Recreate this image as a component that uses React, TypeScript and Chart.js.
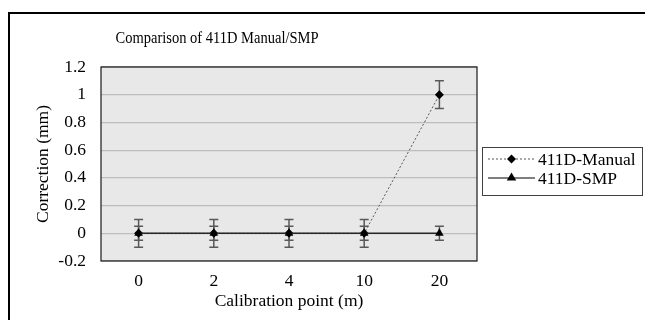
import React, { useEffect, useRef } from 'react';
import { Chart, registerables } from 'chart.js';

Chart.register(...registerables);

const categories = ['0', '2', '4', '10', '20'];
const manualValues = [0, 0, 0, 0, 1];
const smpValues = [0, 0, 0, 0, 0];
const manualErrors = [0.1, 0.1, 0.1, 0.1, 0.1];
const smpErrors = [0.05, 0.05, 0.05, 0.05, 0.05];
const yMin = -0.2;
const yMax = 1.2;
const yStep = 0.2;
const chartTitle = 'Comparison of 411D Manual/SMP';
const xAxisTitle = 'Calibration point (m)';
const yAxisTitle = 'Correction (mm)';
const seriesNames = ['411D-Manual', '411D-SMP'];

const FONT = "'Liberation Serif', 'Times New Roman', serif";

function drawDiamond(ctx: CanvasRenderingContext2D, x: number, y: number, r: number) {
  ctx.beginPath();
  ctx.moveTo(x, y - r);
  ctx.lineTo(x + r, y);
  ctx.lineTo(x, y + r);
  ctx.lineTo(x - r, y);
  ctx.closePath();
  ctx.fill();
}

function drawTriangle(ctx: CanvasRenderingContext2D, x: number, y: number, r: number) {
  ctx.beginPath();
  ctx.moveTo(x, y - r);
  ctx.lineTo(x + r * 0.95, y + r * 0.6);
  ctx.lineTo(x - r * 0.95, y + r * 0.6);
  ctx.closePath();
  ctx.fill();
}

const decorPlugin = {
  id: 'decor',
  beforeDraw(chart: any) {
    const { ctx, chartArea } = chart;
    ctx.save();
    ctx.fillStyle = '#ffffff';
    ctx.fillRect(0, 0, chart.width, chart.height);
    ctx.strokeStyle = '#000000';
    ctx.lineWidth = 2;
    ctx.strokeRect(9, 13, chart.width + 20, chart.height + 20);
    ctx.fillStyle = '#e8e8e8';
    ctx.fillRect(chartArea.left, chartArea.top, chartArea.right - chartArea.left, chartArea.bottom - chartArea.top);
    ctx.restore();
  },
  beforeDatasetsDraw(chart: any) {
    const { ctx } = chart;
    const xs = chart.scales.x;
    const ys = chart.scales.y;
    ctx.save();
    ctx.strokeStyle = '#595959';
    ctx.lineWidth = 1.5;
    const cap = 4.5;
    const draw = (vals: number[], errs: number[]) => {
      vals.forEach((v, i) => {
        const x = xs.getPixelForValue(i);
        const yHi = ys.getPixelForValue(v + errs[i]);
        const yLo = ys.getPixelForValue(v - errs[i]);
        ctx.beginPath();
        ctx.moveTo(x, yHi);
        ctx.lineTo(x, yLo);
        ctx.moveTo(x - cap, yHi);
        ctx.lineTo(x + cap, yHi);
        ctx.moveTo(x - cap, yLo);
        ctx.lineTo(x + cap, yLo);
        ctx.stroke();
      });
    };
    draw(manualValues, manualErrors);
    draw(smpValues, smpErrors);
    ctx.restore();
  },
  afterDraw(chart: any) {
    const { ctx, chartArea } = chart;
    ctx.save();
    ctx.strokeStyle = '#1a1a1a';
    ctx.lineWidth = 1.2;
    ctx.strokeRect(chartArea.left, chartArea.top, chartArea.right - chartArea.left, chartArea.bottom - chartArea.top);

    ctx.fillStyle = '#000000';
    ctx.font = `17px ${FONT}`;
    ctx.textBaseline = 'middle';
    ctx.textAlign = 'left';
    const w = ctx.measureText(chartTitle).width;
    const tw = 203;
    const sx = Math.min(1, tw / w);
    ctx.save();
    ctx.translate(217 - tw / 2, 39);
    ctx.scale(sx, 1);
    ctx.fillText(chartTitle, 0, 0);
    ctx.restore();

    const bx = 482, by = 147, bw = 160, bh = 48;
    ctx.fillStyle = '#ffffff';
    ctx.fillRect(bx, by, bw, bh);
    ctx.strokeStyle = '#404040';
    ctx.lineWidth = 1;
    ctx.strokeRect(bx + 0.5, by + 0.5, bw, bh);

    const rows = [159, 178];
    ctx.strokeStyle = '#595959';
    ctx.lineWidth = 1;
    ctx.setLineDash([2, 2]);
    ctx.beginPath();
    ctx.moveTo(488, rows[0]);
    ctx.lineTo(535, rows[0]);
    ctx.stroke();
    ctx.setLineDash([]);
    ctx.fillStyle = '#000000';
    drawDiamond(ctx, 511.5, rows[0], 4.5);
    ctx.strokeStyle = '#000000';
    ctx.lineWidth = 1.2;
    ctx.beginPath();
    ctx.moveTo(488, rows[1]);
    ctx.lineTo(535, rows[1]);
    ctx.stroke();
    drawTriangle(ctx, 511.5, rows[1] - 0.5, 5);

    ctx.fillStyle = '#000000';
    ctx.font = `17.5px ${FONT}`;
    ctx.textBaseline = 'middle';
    ctx.textAlign = 'left';
    ctx.fillText(seriesNames[0], 538, rows[0] + 1);
    ctx.fillText(seriesNames[1], 538, rows[1] + 1);
    ctx.restore();
  },
};

export default function App() {
  const canvasRef = useRef<HTMLCanvasElement | null>(null);

  useEffect(() => {
    if (!canvasRef.current) return;
    const chart = new Chart(canvasRef.current, {
      type: 'line',
      data: {
        labels: categories,
        datasets: [
          {
            label: seriesNames[0],
            data: manualValues,
            borderColor: '#595959',
            borderWidth: 1,
            borderDash: [2, 2],
            pointStyle: 'rectRot',
            pointRadius: 4.5,
            pointBackgroundColor: '#000000',
            pointBorderColor: '#000000',
            pointBorderWidth: 0,
            fill: false,
            tension: 0,
            order: 2,
          },
          {
            label: seriesNames[1],
            data: smpValues,
            borderColor: '#262626',
            borderWidth: 1.5,
            pointStyle: 'triangle',
            pointRadius: 5,
            pointBackgroundColor: '#000000',
            pointBorderColor: '#000000',
            pointBorderWidth: 0,
            fill: false,
            tension: 0,
            order: 1,
          },
        ],
      },
      options: {
        animation: false,
        responsive: false,
        maintainAspectRatio: false,
        devicePixelRatio: 1,
        layout: { padding: { left: 29, top: 67, right: 168, bottom: 4 } },
        plugins: {
          legend: { display: false },
          title: { display: false },
          tooltip: { enabled: false },
        },
        scales: {
          x: {
            type: 'category',
            offset: true,
            grid: { display: false, drawTicks: false },
            border: { display: false },
            ticks: {
              padding: 10,
              color: '#000000',
              font: { family: FONT, size: 17.5 },
              maxRotation: 0,
            },
            title: {
              display: true,
              text: xAxisTitle,
              color: '#000000',
              font: { family: FONT, size: 17.5 },
              padding: { top: 4, bottom: 4 },
            },
            afterFit: (scale: any) => {
              scale.height = 55;
            },
          },
          y: {
            min: yMin,
            max: yMax,
            grid: { color: '#bdbdbd', lineWidth: 1.2, drawTicks: false },
            border: { display: false },
            ticks: {
              stepSize: yStep,
              padding: 15,
              color: '#000000',
              font: { family: FONT, size: 17.5 },
              callback: (v: any) => String(Number(Number(v).toFixed(1))),
            },
            title: {
              display: true,
              text: yAxisTitle,
              color: '#000000',
              font: { family: FONT, size: 17.5 },
              padding: { top: 4, bottom: 4 },
            },
            afterFit: (scale: any) => {
              scale.width = 72;
            },
          },
        },
      },
      plugins: [decorPlugin],
    });
    return () => chart.destroy();
  }, []);

  return (
    <div style={{ position: 'absolute', left: 0, top: 0, width: 645, height: 320 }}>
      <canvas ref={canvasRef} width={645} height={320} style={{ display: 'block', width: 645, height: 320 }} />
    </div>
  );
}
